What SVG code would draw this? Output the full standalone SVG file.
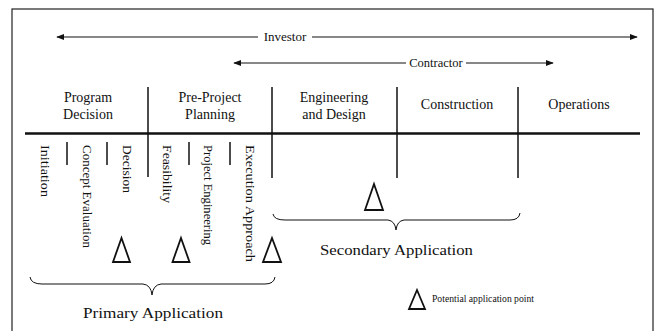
<svg xmlns="http://www.w3.org/2000/svg" width="659" height="331" viewBox="0 0 659 331">
<defs>
<style>
.t{font-family:"Liberation Serif",serif;fill:#111;}
.h{font-size:14px;text-anchor:middle;}
.v{font-size:12px;}
.ln{stroke:#111;stroke-width:1;fill:none;}
.dv{stroke:#111;stroke-width:1.5;fill:none;}
.tri{stroke:#111;stroke-width:1.8;fill:none;stroke-linejoin:miter;}
</style>
<marker id="ah" viewBox="0 0 10 10" refX="9" refY="5" markerWidth="8" markerHeight="8" markerUnits="userSpaceOnUse" orient="auto-start-reverse">
<path d="M0,1 L10,5 L0,9 Z" fill="#111"/>
</marker>
</defs>
<rect x="12" y="9" width="641" height="330" fill="#fff" stroke="#222" stroke-width="1.2"/>

<g id="connectors">
<line class="ln" x1="258" y1="37" x2="57" y2="37" marker-end="url(#ah)"/>
<line class="ln" x1="312" y1="37" x2="637" y2="37" marker-end="url(#ah)"/>
<line class="ln" x1="406" y1="63" x2="234" y2="63" marker-end="url(#ah)"/>
<line class="ln" x1="466" y1="63" x2="553" y2="63" marker-end="url(#ah)"/>
</g>

<g id="labels-roles">
<text class="t" x="285" y="41" font-size="13" text-anchor="middle">Investor</text>
<text class="t" x="436" y="67" font-size="12.5" text-anchor="middle">Contractor</text>
</g>

<g id="timeline">
<line x1="25" y1="133.5" x2="640" y2="133.5" stroke="#111" stroke-width="2.6"/>
<line class="dv" x1="148" y1="87" x2="148" y2="177"/>
<line class="dv" x1="272" y1="87" x2="272" y2="178"/>
<line class="dv" x1="397" y1="87" x2="397" y2="178"/>
<line class="dv" x1="518" y1="87" x2="518" y2="178"/>
<line class="dv" x1="67" y1="142" x2="67" y2="165"/>
<line class="dv" x1="107" y1="142" x2="107" y2="165"/>
<line class="dv" x1="189" y1="142" x2="189" y2="165"/>
<line class="dv" x1="230" y1="142" x2="230" y2="165"/>
</g>

<g id="phase-program">
<text class="t h" x="88" y="102">Program</text>
<text class="t h" x="88" y="119">Decision</text>
</g>
<g id="phase-preproject">
<text class="t h" x="210" y="102">Pre-Project</text>
<text class="t h" x="210" y="119">Planning</text>
</g>
<g id="phase-engineering">
<text class="t h" x="334" y="102">Engineering</text>
<text class="t h" x="334" y="119">and Design</text>
</g>
<g id="phase-construction">
<text class="t h" x="457" y="109">Construction</text>
</g>
<g id="phase-operations">
<text class="t h" x="579" y="109">Operations</text>
</g>

<g id="steps">
<text class="t v" transform="translate(41,145) rotate(90)" textLength="52" lengthAdjust="spacingAndGlyphs">Initiation</text>
<text class="t v" transform="translate(83,145) rotate(90)" textLength="103" lengthAdjust="spacingAndGlyphs">Concept Evaluation</text>
<text class="t v" transform="translate(123,145) rotate(90)" textLength="48" lengthAdjust="spacingAndGlyphs">Decision</text>
<text class="t v" transform="translate(163,145) rotate(90)" textLength="58" lengthAdjust="spacingAndGlyphs">Feasibility</text>
<text class="t v" transform="translate(204,145) rotate(90)" textLength="100" lengthAdjust="spacingAndGlyphs">Project Engineering</text>
<text class="t v" transform="translate(246,145) rotate(90)" textLength="117" lengthAdjust="spacingAndGlyphs">Execution Approach</text>
</g>

<g id="points">
<path class="tri" d="M121.5,238 L130,262 L113,262 Z"/>
<path class="tri" d="M181,238 L189.5,262 L172.5,262 Z"/>
<path class="tri" d="M272,238 L281,262 L263,262 Z"/>
<path class="tri" d="M374,184 L383,210 L365,210 Z"/>
</g>

<g id="primary">
<path class="ln" stroke-width="1.4" d="M30,277 Q31,284 42,284 L143,284 Q151,285 152,295 Q153,285 161,284 L265,284 Q274,284 275,277"/>
<text class="t" x="83" y="318" font-size="15" textLength="140" lengthAdjust="spacingAndGlyphs">Primary Application</text>
</g>

<g id="secondary">
<path class="ln" stroke-width="1.4" d="M273,214 Q274,220 285,220 L388,220 Q395,221 396,230 Q397,221 404,220 L510,220 Q519,220 520,213"/>
<text class="t" x="320" y="255" font-size="15" textLength="153" lengthAdjust="spacingAndGlyphs">Secondary Application</text>
</g>

<g id="legend">
<path class="tri" d="M417,290 L425,309 L409,309 Z"/>
<text class="t" x="432" y="302" font-size="10" textLength="102" lengthAdjust="spacingAndGlyphs">Potential application point</text>
</g>
</svg>
